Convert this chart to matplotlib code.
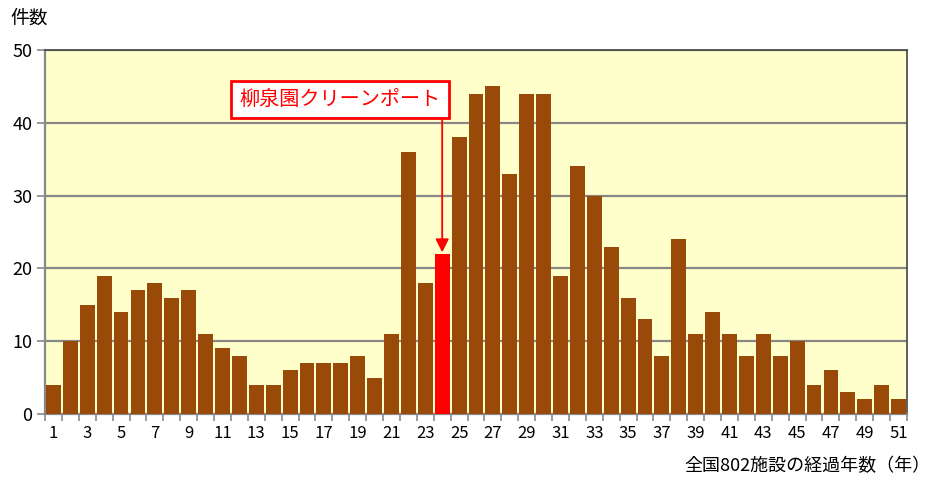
import matplotlib
matplotlib.use("Agg")
import matplotlib.pyplot as plt
import numpy as np

plt.rcParams['font.family'] = ['Noto Sans CJK JP', 'DejaVu Sans']

years = list(range(1, 52))
counts = [4, 10, 15, 19, 14, 17, 18, 16, 17, 11, 9, 8, 4, 4, 6, 7, 7, 7, 8, 5,
          11, 36, 18, 22, 38, 44, 45, 33, 44, 44, 19, 34, 30, 23, 16, 13, 8, 24, 11, 14,
          11, 8, 11, 8, 10, 4, 6, 3, 2, 4, 2]
highlight_year = 24
highlight_label = "柳泉園クリーンポート"
y_ticks = [0, 10, 20, 30, 40, 50]
x_tick_labels = [str(y) for y in years if y % 2 == 1]
y_title = "件数"
x_title = "全国802施設の経過年数（年）"

fig = plt.figure(figsize=(9.34, 4.79), dpi=100)
ax = fig.add_axes([45/934, 1-414/479, (907-45)/934, (414-50)/479])
ax.set_facecolor('#FFFFCC')

colors = ['#FF0000' if y == highlight_year else '#994A08' for y in years]
ax.bar(years, counts, width=0.88, color=colors, zorder=3)

ax.set_xlim(0.5, 51.5)
ax.set_ylim(0, 50)
ax.set_yticks(y_ticks)
ax.set_yticklabels([str(v) for v in y_ticks], fontsize=13)
ax.yaxis.grid(True, color='#888888', linewidth=1.6, zorder=1)
ax.set_axisbelow(True)

ax.set_xticks([y for y in years if y % 2 == 1])
ax.set_xticklabels(x_tick_labels, fontsize=12)
ax.tick_params(axis='x', length=0, pad=8)
ax.set_xticks(np.arange(0.5, 52, 1), minor=True)
ax.tick_params(axis='x', which='minor', length=5, color='#888888', width=1.2)
ax.tick_params(axis='y', length=6, color='#888888', width=1.2, pad=3)

for s in ['left', 'bottom']:
    ax.spines[s].set_color('#888888')
    ax.spines[s].set_linewidth(1.6)
for s in ['top', 'right']:
    ax.spines[s].set_color('#444444')
    ax.spines[s].set_linewidth(1.2)

fig.text(10/934, 1-18/479, y_title, fontsize=13.5, ha='left', va='center')
fig.text(930/934, 1-466/479, x_title, fontsize=13, ha='right', va='center')

hi = counts[years.index(highlight_year)]
ax.annotate("", xy=(highlight_year, hi + 0.2), xytext=(highlight_year, 40.6),
            arrowprops=dict(arrowstyle='-|>', color='red', lw=1.3,
                            mutation_scale=20, shrinkA=0, shrinkB=0), zorder=5)
ax.text(17.95, 43.2, highlight_label, fontsize=14.5, color='red', ha='center', va='center',
        zorder=6,
        bbox=dict(boxstyle='square,pad=0.4', facecolor='white', edgecolor='red', linewidth=2))

fig.savefig('out.png', dpi=100)
